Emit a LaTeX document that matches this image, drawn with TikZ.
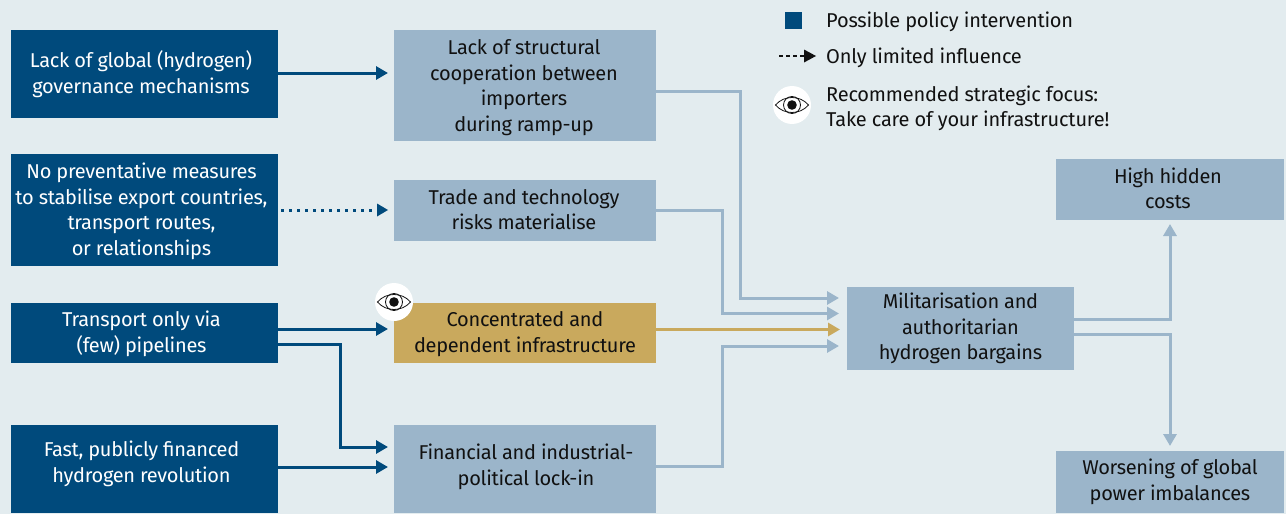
\documentclass[tikz,border=0pt]{standalone}
\usepackage{fontspec}
\setmainfont{Fira Sans}
\newfontfamily\boxface[LetterSpace=-1.5]{Fira Sans}
\newfontfamily\legendface[LetterSpace=-1]{Fira Sans}
\usetikzlibrary{arrows.meta,calc}
\definecolor{bgc}{HTML}{E3ECEF}
\definecolor{navy}{HTML}{004A7C}
\definecolor{steel}{HTML}{9BB5CA}
\definecolor{gold}{HTML}{C9A95D}
\definecolor{ink}{HTML}{111111}
\tikzset{
  x=1pt,y=-1pt,
  boxbase/.style={anchor=north west,inner sep=0pt,outer sep=0pt},
  boxtext/.style={inner sep=0pt,align=center,font=\boxface\fontsize{20}{25.5}\selectfont},
  navybox/.style={boxbase,fill=navy},
  steelbox/.style={boxbase,fill=steel},
  goldbox/.style={boxbase,fill=gold},
  tip/.style={-{Triangle[length=12pt,width=13pt]}},
  navyline/.style={draw=navy,line width=3pt,tip},
  steelline/.style={draw=steel,line width=3pt,tip},
  goldline/.style={draw=gold,line width=3pt,tip},
  legendtext/.style={anchor=west,inner sep=0pt,align=left,text=ink,font=\legendface\fontsize{20}{25.5}\selectfont},
  eyedisc/.style={circle,fill=white,minimum size=38pt,inner sep=0pt},
  pics/eyeicon/.style={code={
    \draw[line width=.8pt,ink] (-16.5,0) .. controls (-8,-10) and (8,-10) .. (16.5,0) .. controls (8,10) and (-8,10) .. (-16.5,0) -- cycle;
    \draw[line width=.8pt,ink] (0,0) circle (8.5pt);
    \fill[ink] (0,0) circle (4.8pt);
  }}
}
% style, name, x0, y0, x1, y1, text colour and text offset, text
\newcommand{\bx}[8]{\node[#1,minimum width=#5pt-#3pt,minimum height=#6pt-#4pt,
  label={[boxtext,#7]center:{#8}}] (#2) at (#3,#4) {};}
\begin{document}
\begin{tikzpicture}
\fill[bgc] (0,0) rectangle (1286,514);
\useasboundingbox (0,0) rectangle (1286,514);
% left column
\bx{navybox}{a1}{11}{30}{278}{118}{text=white,xshift=-3.5pt}{Lack of global (hydrogen)\\governance mechanisms}
\bx{navybox}{a2}{11}{154}{278}{266}{text=white,xshift=-3pt,yshift=-1.5pt}{No preventative measures\\to stabilise export countries,\\transport routes,\\or relationships}
\bx{navybox}{a3}{11}{303}{278}{363}{text=white,xshift=-3pt,yshift=-1pt}{Transport only via\\(few) pipelines}
\bx{navybox}{a4}{11}{425}{278}{513}{text=white,xshift=-3pt,yshift=5pt}{Fast, publicly financed\\hydrogen revolution}
% middle column
\bx{steelbox}{b1}{394}{30}{656}{141}{text=ink,xshift=-1pt,yshift=-2pt}{Lack of structural\\cooperation between\\importers\\during ramp-up}
\bx{steelbox}{b2}{394}{180}{656}{241}{text=ink,xshift=-1pt,yshift=1pt}{Trade and technology\\risks materialise}
\bx{goldbox}{b3}{394}{303}{656}{363}{text=ink,yshift=-1pt}{Concentrated and\\dependent infrastructure}
\bx{steelbox}{b4}{394}{425}{656}{513}{text=ink,xshift=1pt,yshift=2pt}{Financial and industrial-\\political lock-in}
% right
\bx{steelbox}{c}{847}{287}{1074}{370}{text=ink}{Militarisation and\\authoritarian\\hydrogen bargains}
\bx{steelbox}{d1}{1056}{159}{1284}{220}{text=ink,xshift=-2pt,yshift=1pt}{High hidden\\costs}
\bx{steelbox}{d2}{1056}{451}{1284}{513}{text=ink}{Worsening of global\\power imbalances}
% connector end points
\coordinate (ca) at (839,298);
\coordinate (cb) at (839,313.5);
\coordinate (cc) at (840,329.5);
\coordinate (cd) at (839,346);
% left to middle
\draw[navyline] (a1.east |- 0,73) -- (388,73);
\draw[navy,line width=3pt,dash pattern=on 3pt off 5pt] (a2.east |- 0,210) ++(3,0) -- (376,210);
\fill[navy] (388,210) -- (377,203.5) -- (377,216.5) -- cycle;
\draw[navyline] (a3.east |- 0,329) -- (388,329);
\draw[navyline] (a3.east |- 0,344.5) -| (340,447) -- (388,447);
\draw[navyline] (a4.east |- 0,467) -- (388,467);
% middle to right
\draw[steelline] (b1.east |- 0,91) -| (740,298) -- (ca);
\draw[steelline] (b2.east |- 0,210) -| (722,313.5) -- (cb);
\draw[goldline] (b3.east |- 0,329.5) -- (cc);
\draw[steelline] (b4.east |- 0,466) -| (722,346) -- (cd);
% outcome arrows
\draw[steelline] (c.east |- 0,319) -| (1170,224);
\draw[steelline] (c.east |- 0,334) -| (1170,446);
% eye on focus box
\node[eyedisc] (eye) at (394,302) {};
\pic at (eye.center) {eyeicon};
% legend
\node[fill=navy,minimum size=17pt,inner sep=0pt] (lsq) at (793,20.5) {};
\node[legendtext] (l1) at (826,21.5) {Possible policy intervention};
\coordinate (lda) at (779,56);
\coordinate (ldb) at (816,56);
\draw[ink,line width=2pt,dash pattern=on 4pt off 3pt] (lda) -- (805,56);
\fill[ink] (ldb) -- (804,49.5) -- (804,62.5) -- cycle;
\node[legendtext] (l2) at (826,58) {Only limited influence};
\node[eyedisc] (leye) at (792,105) {};
\pic at (leye.center) {eyeicon};
\node[legendtext] (l3) at (826,108.5) {Recommended strategic focus:\\Take care of your infrastructure!};
\end{tikzpicture}
\end{document}
